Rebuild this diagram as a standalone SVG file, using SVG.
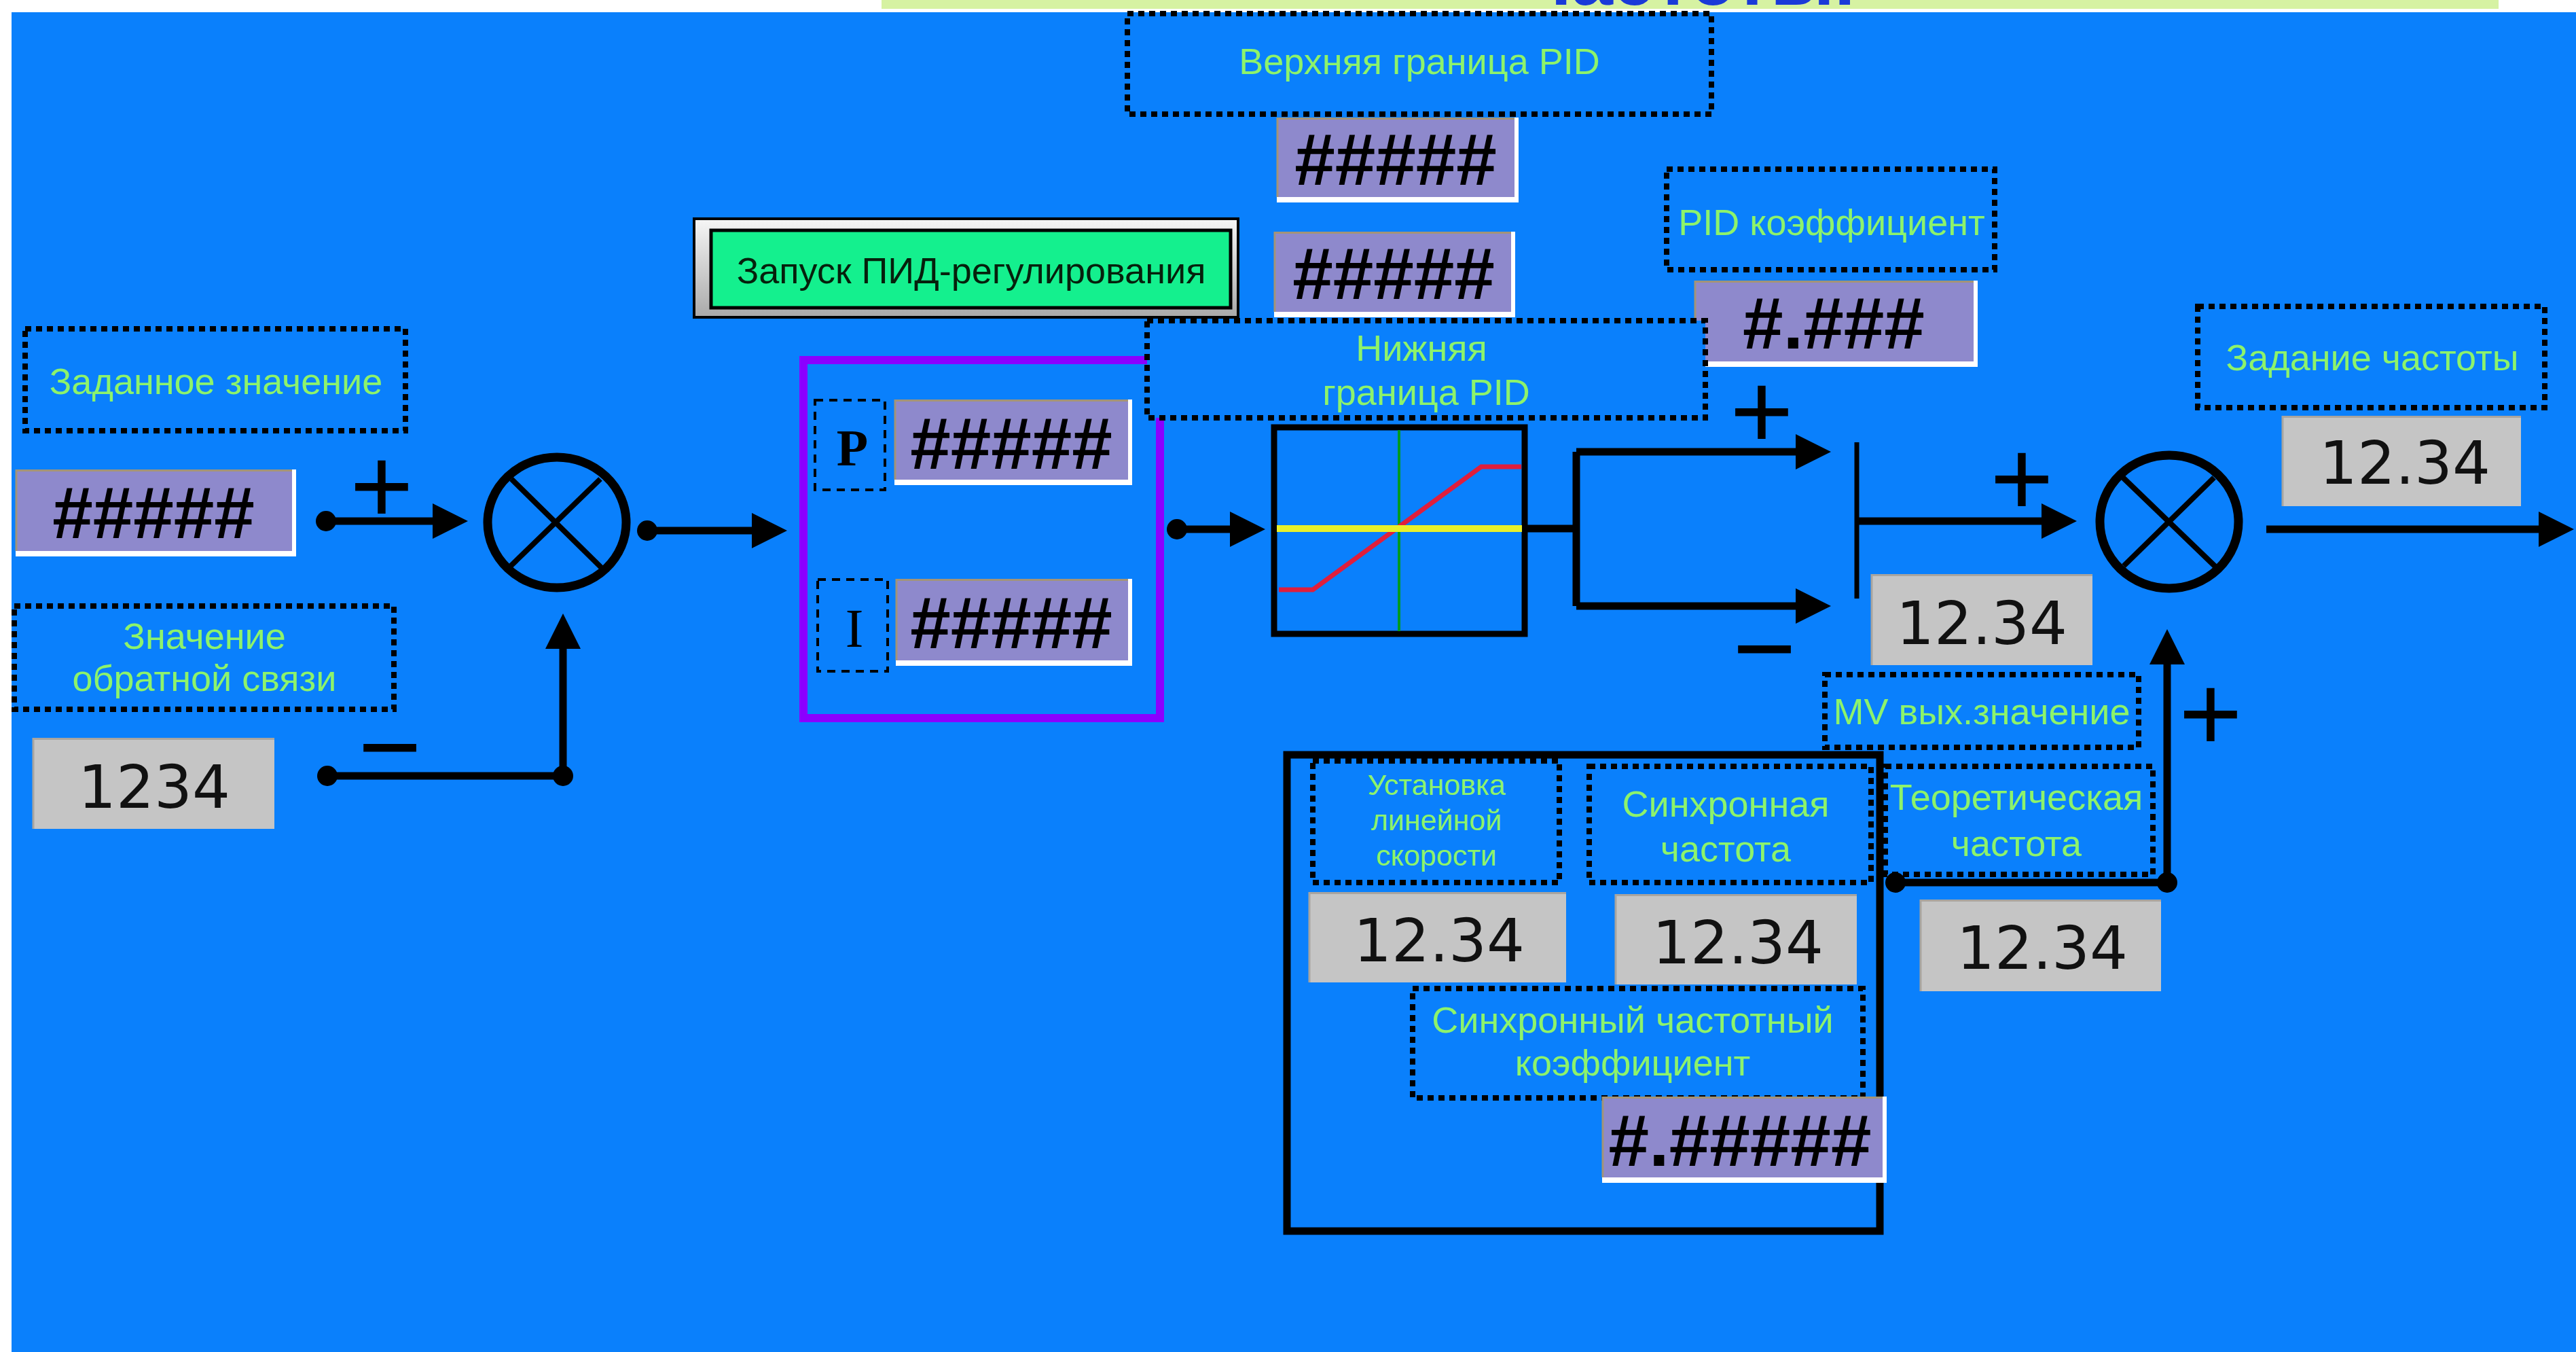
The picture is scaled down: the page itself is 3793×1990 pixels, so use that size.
<svg xmlns="http://www.w3.org/2000/svg" width="3793" height="1990" viewBox="0 0 3793 1990">
<defs>
<style>
.lbl{font-family:"Liberation Sans",Arial,sans-serif;font-size:54px;fill:#8df36b;text-anchor:middle}
.lbl-s{font-family:"Liberation Sans",Arial,sans-serif;font-size:43px;fill:#8df36b;text-anchor:middle}
.dbox{fill:#0a80fc;stroke:#000;stroke-width:8;stroke-dasharray:9 7}
.pbox{fill:#0a80fc;stroke:#000;stroke-width:4;stroke-dasharray:12 9}
.hw{fill:#ffffff}
.hb{fill:#8e89cc}
.he{fill:none;stroke:#a39478;stroke-width:3}
.hash{font-family:"Liberation Sans",Arial,sans-serif;font-weight:bold;font-size:107px;fill:#000;text-anchor:middle}
.gb{fill:#c5c5c5}
.ge{fill:none;stroke:#a9a59f;stroke-width:3}
.num{font-family:"DejaVu Sans",Verdana,sans-serif;font-size:88px;fill:#111;text-anchor:middle}
.wire{fill:none;stroke:#000;stroke-width:11}
.arr{marker-end:url(#ah)}
.sign{font-family:"Liberation Sans",Arial,sans-serif;font-size:160px;fill:#000;text-anchor:middle}
.sum{fill:none;stroke:#000;stroke-width:13}
.sumx{stroke:#000;stroke-width:8}
.serif{font-family:"Liberation Serif","Times New Roman",serif;fill:#000;text-anchor:middle}
</style>
<marker id="ah" markerUnits="userSpaceOnUse" markerWidth="52" markerHeight="52" viewBox="0 0 52 52" refX="22" refY="26" orient="auto">
<path d="M0,0 L52,26 L0,52 Z" fill="#000"/>
</marker>
<linearGradient id="btn" x1="0" y1="0" x2="0" y2="1">
<stop offset="0" stop-color="#f6f6f6"/>
<stop offset="1" stop-color="#a9a9a9"/>
</linearGradient>
</defs>

<rect x="0" y="0" width="3793" height="1990" fill="#ffffff"/>
<rect x="17" y="18" width="3776" height="1972" fill="#0a80fc"/>
<g id="heading">
<rect x="1298" y="0" width="2381" height="13" fill="#d6f2a2"/>
<text x="2250" y="7" font-family="Liberation Sans, Arial, sans-serif" font-weight="bold" font-size="110" fill="#1a3ad8">частоты.</text>
</g>

<g id="upper-limit-label">
<rect class="dbox" x="1660" y="20" width="860" height="148"/>
<text class="lbl" x="2090" y="109">Верхняя граница PID</text>
</g>
<g id="upper-limit-value">
<rect class="hw" x="1880" y="173" width="356" height="125"/>
<rect class="hb" x="1880" y="173" width="350" height="117"/>
<path class="he" d="M1881,290 V174.5 H2230"/>
<text class="hash" x="2055" y="272">#####</text>
</g>
<g id="pid-start-button">
<rect x="1022" y="322" width="801" height="145" fill="url(#btn)" stroke="#000" stroke-width="4"/>
<rect x="1047" y="339" width="765" height="114" fill="#14f08e" stroke="#000" stroke-width="5"/>
<text x="1430" y="417" font-family="Liberation Sans, Arial, sans-serif" font-size="54" fill="#06200c" text-anchor="middle">Запуск ПИД-регулирования</text>
</g>
<g id="lower-limit-value">
<rect class="hw" x="1876" y="341" width="355" height="126"/>
<rect class="hb" x="1876" y="341" width="349" height="118"/>
<path class="he" d="M1877,459 V342.5 H2225"/>
<text class="hash" x="2052" y="440">#####</text>
</g>
<g id="pid-coef-label">
<rect class="dbox" x="2454" y="249" width="483" height="148"/>
<text class="lbl" x="2697" y="346">PID коэффициент</text>
</g>
<g id="pid-coef-value">
<rect class="hw" x="2495" y="413" width="417" height="127"/>
<rect class="hb" x="2495" y="413" width="411" height="119"/>
<path class="he" d="M2496,532 V414.5 H2906"/>
<text class="hash" x="2700" y="513">#.###</text>
</g>
<g id="freq-set-label">
<rect class="dbox" x="3236" y="451" width="511" height="149"/>
<text class="lbl" x="3493" y="545">Задание частоты</text>
</g>
<g id="freq-set-value">
<rect class="gb" x="3360" y="612" width="352" height="133"/>
<path class="ge" d="M3361,745 V613.5 H3712"/>
<text class="num" x="3541" y="712">12.34</text>
</g>
<g id="setpoint-label">
<rect class="dbox" x="37" y="484" width="560" height="150"/>
<text class="lbl" x="318" y="580">Заданное значение</text>
</g>
<g id="setpoint-value">
<rect class="hw" x="23" y="691" width="413" height="128"/>
<rect class="hb" x="23" y="691" width="407" height="120"/>
<path class="he" d="M24,811 V692.5 H430"/>
<text class="hash" x="226" y="792">#####</text>
</g>
<g id="feedback-label">
<rect class="dbox" x="21" y="892" width="559" height="152"/>
<text class="lbl" x="301" y="955">Значение</text>
<text class="lbl" x="301" y="1017">обратной связи</text>
</g>
<g id="feedback-value">
<rect class="gb" x="48" y="1086" width="356" height="134"/>
<path class="ge" d="M49,1220 V1087.5 H404"/>
<text class="num" x="227" y="1189">1234</text>
</g>
<g id="sum1">
<ellipse class="sum" cx="820" cy="769" rx="102" ry="96"/>
<line class="sumx" x1="753" y1="705" x2="887" y2="837"/>
<line class="sumx" x1="884" y1="705" x2="752" y2="833"/>
</g>
<g id="pi-block">
<rect x="1183" y="530" width="525" height="527" fill="none" stroke="#8b00ff" stroke-width="12"/>
<rect class="pbox" x="1200" y="589" width="103" height="132"/>
<text class="serif" x="1255" y="685" font-size="76" font-weight="bold">P</text>
<rect class="hw" x="1317" y="588" width="350" height="126"/>
<rect class="hb" x="1317" y="588" width="344" height="118"/>
<path class="he" d="M1318,706 V589.5 H1661"/>
<text class="hash" x="1489" y="690">#####</text>
<rect class="pbox" x="1204" y="853" width="103" height="135"/>
<text class="serif" x="1258" y="952" font-size="80">I</text>
<rect class="hw" x="1319" y="852" width="348" height="128"/>
<rect class="hb" x="1319" y="852" width="342" height="120"/>
<path class="he" d="M1320,972 V853.5 H1661"/>
<text class="hash" x="1489" y="954">#####</text>
</g>
<g id="lower-limit-label">
<rect class="dbox" x="1689" y="472" width="822" height="143"/>
<text class="lbl" x="2093" y="531">Нижняя</text>
<text class="lbl" x="2100" y="596">граница PID</text>
</g>
<g id="limiter">
<rect x="1876" y="629" width="369" height="304" fill="none" stroke="#000" stroke-width="9"/>
<line x1="2060" y1="633" x2="2060" y2="929" stroke="#009a20" stroke-width="4"/>
<polyline points="1883,868 1933,868 2181,687 2240,687" fill="none" stroke="#e01e3c" stroke-width="7"/>
<line x1="1880" y1="778" x2="2241" y2="778" stroke="#e8f02a" stroke-width="10"/>
</g>
<g id="mv-value">
<rect class="gb" x="2755" y="845" width="326" height="134"/>
<path class="ge" d="M2756,979 V846.5 H3081"/>
<text class="num" x="2918" y="948">12.34</text>
</g>
<g id="sum2">
<ellipse class="sum" cx="3194" cy="768" rx="102" ry="98"/>
<line class="sumx" x1="3126" y1="703" x2="3262" y2="834"/>
<line class="sumx" x1="3260" y1="703" x2="3127" y2="833"/>
</g>
<g id="mv-label">
<rect class="dbox" x="2687" y="993" width="462" height="107"/>
<text class="lbl" x="2918" y="1066">MV вых.значение</text>
</g>
<g id="sync-block">
<rect x="1895" y="1111" width="873" height="701" fill="none" stroke="#000" stroke-width="11"/>
</g>
<g id="line-speed-label">
<rect class="dbox" x="1933" y="1120" width="363" height="179"/>
<text class="lbl-s" x="2115" y="1170">Установка</text>
<text class="lbl-s" x="2115" y="1222">линейной</text>
<text class="lbl-s" x="2115" y="1274">скорости</text>
</g>
<g id="sync-freq-label">
<rect class="dbox" x="2340" y="1128" width="415" height="171"/>
<text class="lbl" x="2541" y="1202">Синхронная</text>
<text class="lbl" x="2541" y="1268">частота</text>
</g>
<g id="theory-freq-label">
<rect class="dbox" x="2776" y="1128" width="394" height="159"/>
<text class="lbl" x="2969" y="1192">Теоретическая</text>
<text class="lbl" x="2969" y="1260">частота</text>
</g>
<g id="line-speed-value">
<rect class="gb" x="1927" y="1313" width="379" height="133"/>
<path class="ge" d="M1928,1446 V1314.5 H2306"/>
<text class="num" x="2119" y="1415">12.34</text>
</g>
<g id="sync-freq-value">
<rect class="gb" x="2378" y="1316" width="356" height="133"/>
<path class="ge" d="M2379,1449 V1317.5 H2734"/>
<text class="num" x="2559" y="1418">12.34</text>
</g>
<g id="theory-freq-value">
<rect class="gb" x="2827" y="1324" width="355" height="135"/>
<path class="ge" d="M2828,1459 V1325.5 H3182"/>
<text class="num" x="3007" y="1426">12.34</text>
</g>
<g id="sync-coef-label">
<rect class="dbox" x="2080" y="1455" width="663" height="161"/>
<text class="lbl" x="2404" y="1520">Синхронный частотный</text>
<text class="lbl" x="2404" y="1583">коэффициент</text>
</g>
<g id="sync-coef-value">
<rect class="hw" x="2359" y="1614" width="419" height="127"/>
<rect class="hb" x="2359" y="1614" width="413" height="119"/>
<path class="he" d="M2360,1733 V1615.5 H2772"/>
<text class="hash" x="2562" y="1716">#.#####</text>
</g>

<g id="connectors">
<path class="wire arr" d="M480,767 H659"/>
<path class="wire arr" d="M482,1142 H829 V933"/>
<path class="wire arr" d="M953,781 H1129"/>
<path class="wire arr" d="M1733,779 H1833"/>
<path class="wire" d="M2245,778 H2321 M2321,665 V892"/>
<path class="wire arr" d="M2321,665 H2666"/>
<path class="wire arr" d="M2321,892 H2666"/>
<path fill="none" stroke="#000" stroke-width="7" d="M2734,651 V881"/>
<path class="wire arr" d="M2734,767 H3028"/>
<path class="wire arr" d="M3337,779 H3760"/>
<path class="wire arr" d="M2791,1299 H3191 V956"/>
<g fill="#000">
<circle cx="480" cy="767" r="15"/>
<circle cx="482" cy="1142" r="15"/>
<circle cx="829" cy="1142" r="15"/>
<circle cx="953" cy="781" r="15"/>
<circle cx="1733" cy="779" r="15"/>
<circle cx="2791" cy="1299" r="15"/>
<circle cx="3191" cy="1299" r="15"/>
</g>
<text class="sign" x="562" y="770">+</text>
<text class="sign" x="574" y="1154">−</text>
<text class="sign" x="2594" y="660">+</text>
<text class="sign" x="2598" y="1009">−</text>
<text class="sign" x="2977" y="759">+</text>
<text class="sign" x="3255" y="1105">+</text>
</g>
</svg>
